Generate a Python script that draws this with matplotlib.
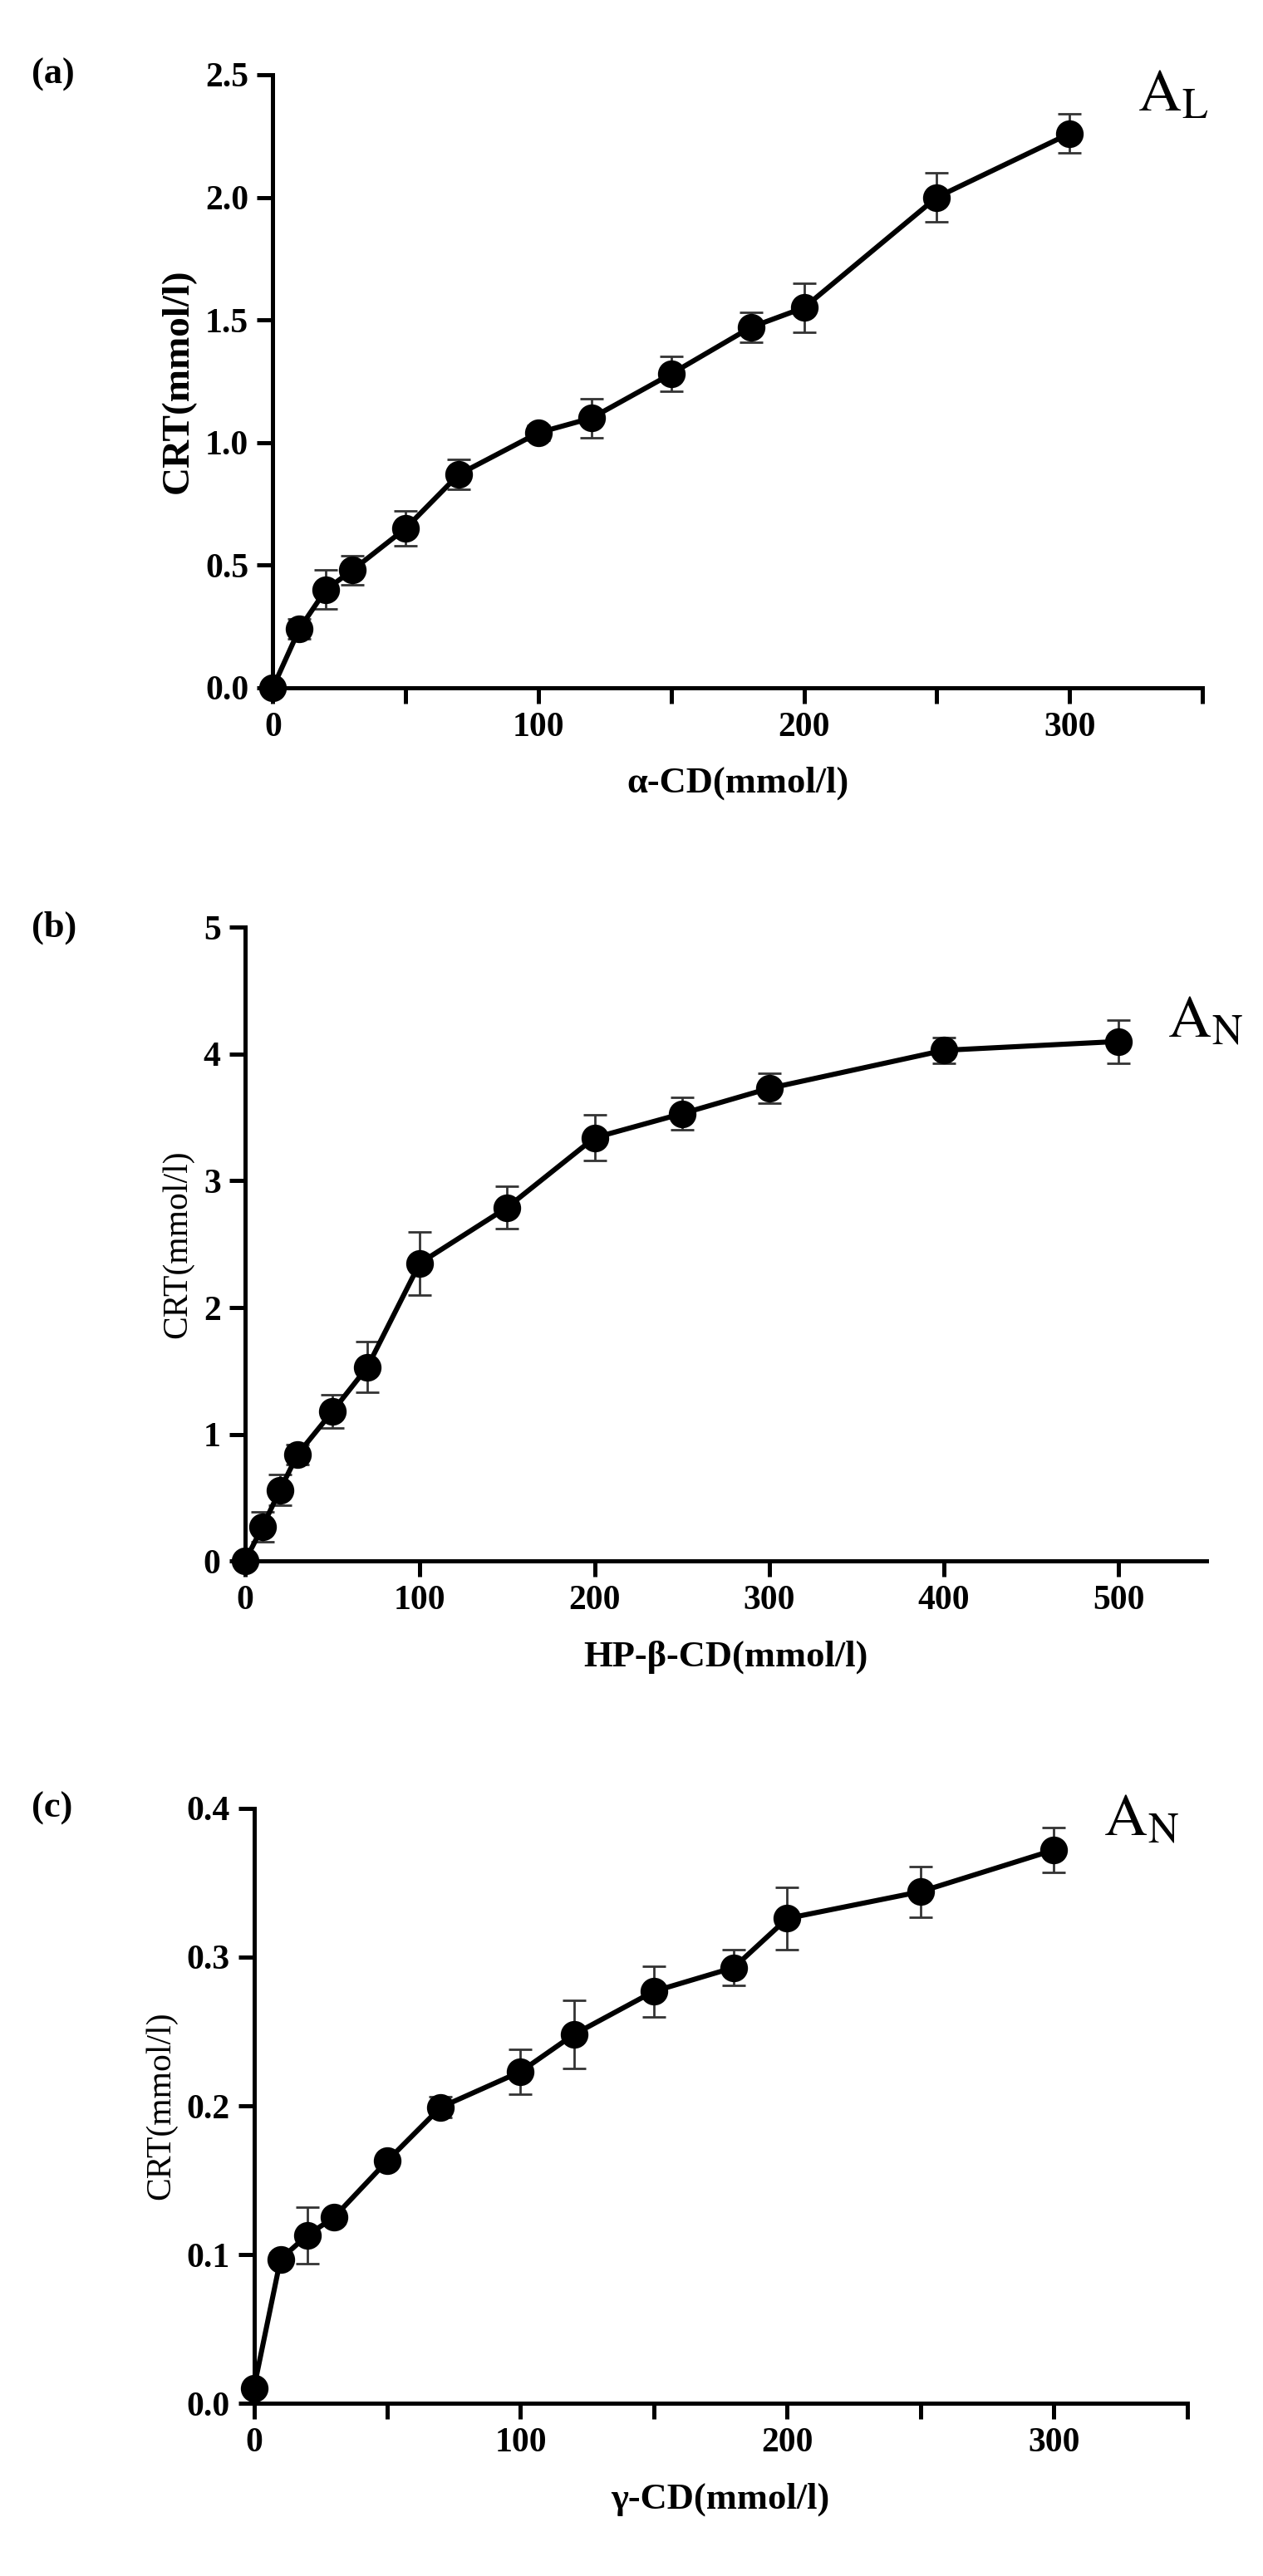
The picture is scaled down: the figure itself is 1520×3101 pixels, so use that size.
import matplotlib
matplotlib.use("Agg")
import matplotlib.pyplot as plt

plt.rcParams['font.family'] = ['Liberation Serif', 'DejaVu Serif']
plt.rcParams['mathtext.fontset'] = 'stix'

# panel (a) alpha-CD
a_x = [0, 10, 20, 30, 50, 70, 100, 120, 150, 180, 200, 250, 300]
a_y = [0.0, 0.24, 0.40, 0.48, 0.65, 0.87, 1.04, 1.10, 1.28, 1.47, 1.55, 2.00, 2.26]
a_err = [0.0, 0.04, 0.08, 0.06, 0.07, 0.06, 0.03, 0.08, 0.07, 0.06, 0.10, 0.10, 0.08]

# panel (b) HP-beta-CD
b_x = [0, 10, 20, 30, 50, 70, 100, 150, 200, 250, 300, 400, 500]
b_y = [0.0, 0.27, 0.56, 0.84, 1.18, 1.53, 2.35, 2.79, 3.34, 3.53, 3.73, 4.03, 4.10]
b_err = [0.0, 0.12, 0.12, 0.08, 0.13, 0.20, 0.25, 0.17, 0.18, 0.13, 0.12, 0.10, 0.17]

# panel (c) gamma-CD
c_x = [0, 10, 20, 30, 50, 70, 100, 120, 150, 180, 200, 250, 300]
c_y = [0.010, 0.097, 0.113, 0.125, 0.163, 0.199, 0.223, 0.248, 0.277, 0.293, 0.326, 0.344, 0.372]
c_err = [0.0, 0.004, 0.019, 0.004, 0.003, 0.007, 0.015, 0.023, 0.017, 0.012, 0.021, 0.017, 0.015]

fig = plt.figure(figsize=(7.6, 15.505), dpi=200)

panels = [
    dict(rect=[0.216, 0.733, 0.736, 0.238], x=a_x, y=a_y, e=a_err, xlim=350, xt=[0, 100, 200, 300],
         xminor=[50, 150, 250, 350], ylim=2.5, yt=[0, 0.5, 1.0, 1.5, 2.0, 2.5], yfmt='{:.1f}',
         xlabel='α-CD(mmol/l)', tag='(a)', lab='$\\mathrm{A_L}$', labpos=(0.93, 0.965), ylab_bold=True),
    dict(rect=[0.194, 0.394, 0.761, 0.246], x=b_x, y=b_y, e=b_err, xlim=550, xt=[0, 100, 200, 300, 400, 500],
         xminor=[], ylim=5, yt=[0, 1, 2, 3, 4, 5], yfmt='{:.0f}',
         xlabel='HP-β-CD(mmol/l)', tag='(b)', lab='$\\mathrm{A_N}$', labpos=(0.96, 0.85), ylab_bold=False),
    dict(rect=[0.201, 0.067, 0.739, 0.231], x=c_x, y=c_y, e=c_err, xlim=350, xt=[0, 100, 200, 300],
         xminor=[50, 150, 250, 350], ylim=0.4, yt=[0, 0.1, 0.2, 0.3, 0.4], yfmt='{:.1f}',
         xlabel='γ-CD(mmol/l)', tag='(c)', lab='$\\mathrm{A_N}$', labpos=(0.91, 0.98), ylab_bold=False),
]

for p in panels:
    ax = fig.add_axes(p['rect'])
    ax.errorbar(p['x'], p['y'], yerr=p['e'], color='black', lw=2.2, marker='o', ms=11,
                ecolor='#333333', elinewidth=1.0, capsize=5, capthick=1.0, clip_on=False, zorder=3)
    ax.set_xlim(0, p['xlim'])
    ax.set_ylim(0, p['ylim'])
    ax.set_xticks(p['xt'])
    ax.set_xticks(p['xminor'], minor=True)
    ax.set_yticks(p['yt'])
    ax.set_yticklabels([p['yfmt'].format(v) for v in p['yt']])
    for s in ['top', 'right']:
        ax.spines[s].set_visible(False)
    for s in ['left', 'bottom']:
        ax.spines[s].set_linewidth(1.8)
    ax.tick_params(which='both', width=1.8, length=7, direction='out', labelsize=15)
    for t in ax.get_xticklabels() + ax.get_yticklabels():
        t.set_fontweight('bold')
    ax.set_xlabel(p['xlabel'], fontsize=16, fontweight='bold', labelpad=10)
    ax.set_ylabel('CRT(mmol/l)', fontsize=17 if p['ylab_bold'] else 15,
                  fontweight='bold' if p['ylab_bold'] else 'normal')
    top = p['rect'][1] + p['rect'][3]
    fig.text(0.025, top, p['tag'], fontsize=16, fontweight='bold', va='center', ha='left')
    ax.text(p['labpos'][0], p['labpos'][1], p['lab'], transform=ax.transAxes, fontsize=26,
            ha='left', va='center')

fig.savefig('out.png', dpi=200)
